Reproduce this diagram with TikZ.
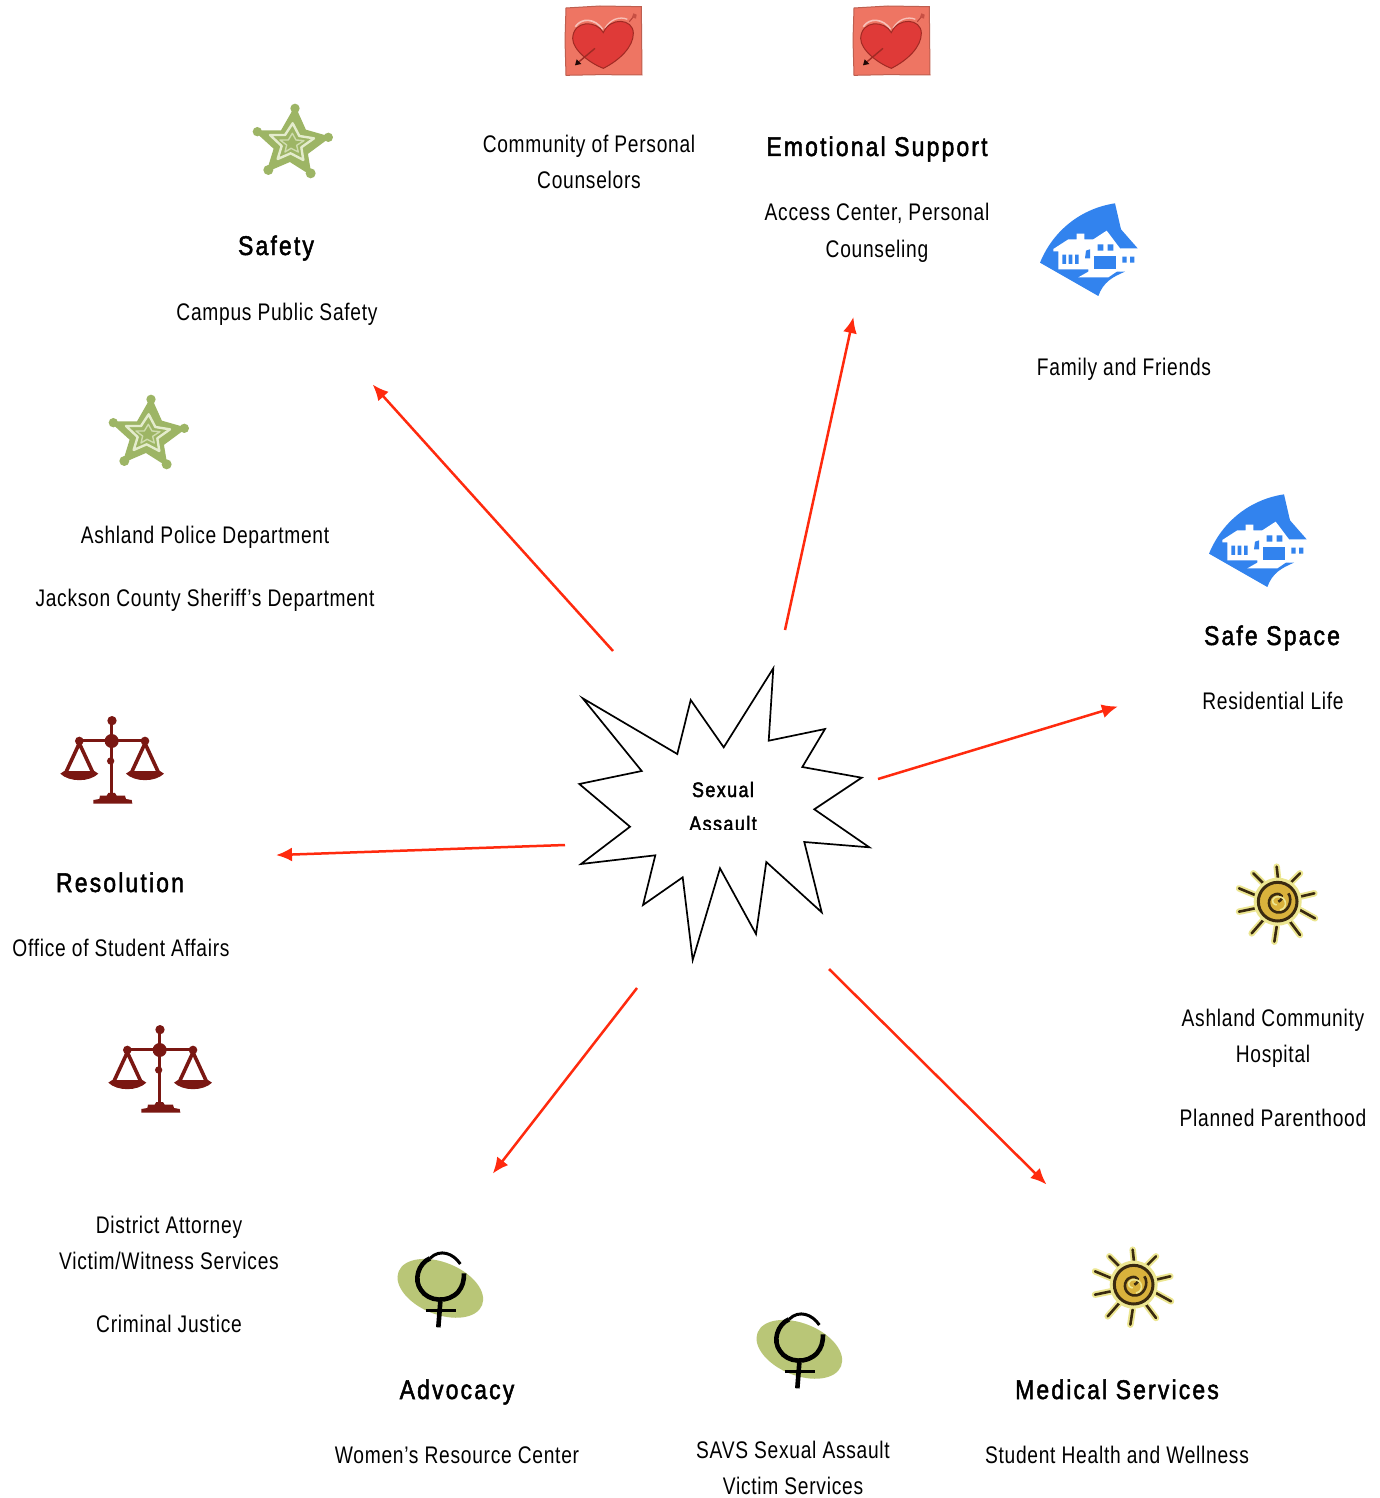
\documentclass[tikz,border=0pt]{standalone}
\usepackage{fontspec}
\setmainfont{Liberation Sans}
\newfontfamily\bodyfont[FakeStretch=0.8,LetterSpace=3]{Liberation Sans}
\newfontfamily\headfont[FakeStretch=0.85,LetterSpace=8,FakeBold=1.8]{Liberation Sans}
\newfontfamily\burstfont[FakeStretch=0.85,LetterSpace=7,FakeBold=2]{Liberation Sans}
\usetikzlibrary{arrows.meta}
\definecolor{arrowred}{HTML}{FF2A0E}
\definecolor{heartbg}{HTML}{EE7563}
\definecolor{heartred}{HTML}{DF3A38}
\definecolor{heartdark}{HTML}{A02A24}
\definecolor{stargreen}{HTML}{9DB565}
\definecolor{starlight}{HTML}{E4ECCD}
\definecolor{houseblue}{HTML}{3283EE}
\definecolor{scalered}{HTML}{7A1712}
\definecolor{sunyellow}{HTML}{ECE691}
\definecolor{sungold}{HTML}{D9B23C}
\definecolor{sundark}{HTML}{3A2A10}
\definecolor{venusgreen}{HTML}{B9C677}
\tikzset{
  txt/.style={font=\bodyfont\fontsize{24}{24}\selectfont,anchor=base,inner sep=0pt,text=black},
  head/.style={font=\headfont\fontsize{27}{27}\selectfont,anchor=base,inner sep=0pt,text=black},
  burstlbl/.style={font=\burstfont\fontsize{21}{21}\selectfont,anchor=base,inner sep=0pt,text=black},
  link/.style={draw=arrowred,line width=2.5pt,shorten >=-2pt,-{Latex[length=16pt,width=14pt]}},
  icon/.style={x=0.3333pt,y=-0.3333pt}
}
\newcommand{\hearticon}[2]{\begin{scope}[shift={(#1,#2)},icon]
  \fill[heartbg,draw=heartbg!80!black,line width=1pt] (48,24) -- (150,18) -- (274,20) -- (276,225) -- (150,224) -- (48,226) -- (45,120) -- cycle;
  \draw[white!55!heartbg,line width=1.6pt] (76,80) .. controls (95,52) and (135,55) .. (158,88);
  \draw[white!55!heartbg,line width=1.3pt] (165,85) .. controls (180,58) and (210,48) .. (232,58);
  \fill[heartred,draw=heartdark,line width=1pt] (160,98) .. controls (140,60) and (70,60) .. (68,115) .. controls (68,150) and (120,190) .. (160,205) .. controls (210,180) and (250,140) .. (250,100) .. controls (250,55) and (180,50) .. (160,98) -- cycle;
  \draw[heartdark,line width=1.4pt] (135,145) -- (85,187);
  \fill[black!80!heartdark] (75,196) -- (80,178) -- (94,192) -- cycle;
  \draw[heartdark!70!heartbg,line width=1pt] (238,65) -- (252,48);
  \fill[heartdark!50!heartbg] (246,52) -- (250,40) -- (260,44) -- (258,56) -- cycle;
\end{scope}}
\newcommand{\staricon}[2]{\begin{scope}[shift={(#1,#2)},icon]
  \draw[stargreen,fill=stargreen,line width=2.4pt,line join=round] (195,55) -- (225,122) -- (295,142) -- (230,190) -- (240,250) -- (180,212) -- (115,240) -- (135,175) -- (80,125) -- (155,125) -- cycle;
  \fill[stargreen] (195,55) circle (14) (295,142) circle (14) (242,250) circle (15) (115,240) circle (15) (82,125) circle (14);
  \draw[starlight,line width=2.4pt,line join=round] (188,100) -- (208,138) -- (252,145) -- (214,172) -- (220,210) -- (182,190) -- (143,207) -- (155,168) -- (120,135) -- (165,135) -- cycle;
  \draw[starlight!70!stargreen,line width=1.4pt,line join=round] (187,130) -- (198,150) -- (222,152) -- (200,166) -- (205,186) -- (183,175) -- (165,186) -- (170,165) -- (150,150) -- (175,150) -- cycle;
\end{scope}}
\newcommand{\houseicon}[2]{\begin{scope}[shift={(#1,#2)},icon]
  \fill[houseblue] (45,218) .. controls (85,120) and (170,55) .. (270,40) -- (288,118) -- (287,245) -- (300,245) .. controls (265,260) and (235,275) .. (220,318) -- cycle;
  \fill[white] (85,177) -- (130,148) -- (155,148) -- (155,131) -- (178,131) -- (178,148) -- (205,148) -- (245,122) -- (285,175) -- (288,175) -- (288,245) -- (275,245) -- (250,262) -- (160,262) -- (190,245) -- (190,238) -- (100,238) -- (100,184) -- (85,184) -- cycle;
  \fill[houseblue] (248,118) -- (288,118) -- (338,175) -- (288,175) -- cycle;
  \fill[houseblue] (183,182) -- (195,178) -- (195,205) -- (180,205) -- cycle;
  \fill[houseblue] (112,194) rectangle (123,222) (131,194) rectangle (142,222) (150,194) rectangle (161,222);
  \fill[houseblue] (207,198) rectangle (272,238);
  \fill[houseblue] (218,163) rectangle (235,182) (248,163) rectangle (265,182);
  \fill[houseblue] (292,200) rectangle (305,218) (315,200) rectangle (328,218);
\end{scope}}
\newcommand{\scaleicon}[2]{\begin{scope}[shift={(#1,#2)},icon]
  \draw[scalered,line width=3.4pt] (184,47) -- (184,280);
  \draw[scalered,line width=3.2pt] (88,106) -- (285,106);
  \fill[scalered] (186,47) circle (14) (185,108) circle (21) (182,168) circle (11) (88,108) circle (13) (285,108) circle (13);
  \foreach \c in {88,285}{
    \draw[scalered,line width=3.6pt] (\c,115) -- (\c-44,210) (\c,115) -- (\c+44,210);
    \fill[scalered] (\c-57,206) .. controls (\c-30,232) and (\c+30,232) .. (\c+57,206) -- (\c+45,198) -- (\c-45,198) -- cycle;
  }
  \fill[scalered] (130,296) -- (130,285) -- (148,282) -- (150,272) -- (170,272) -- (175,264) -- (195,264) -- (200,272) -- (225,272) -- (228,282) -- (245,285) -- (247,296) -- cycle;
\end{scope}}
\newcommand{\sunicon}[2]{\begin{scope}[shift={(#1,#2)},icon]
  \foreach \a/\b/\c/\d in {160/80/155/35,190/90/225/55,225/125/268/115,225/165/270/190,195/200/225/240,155/215/148/260,115/195/80/235,90/160/42/170,90/120/42/100,115/85/85/55}{
    \draw[sunyellow,line width=6.5pt,line cap=round] (\a,\b) -- (\c,\d);
    \draw[sundark,line width=2.6pt,line cap=round] (\a,\b) -- (\c,\d);
  }
  \fill[sunyellow] (158,140) circle (72);
  \fill[sungold] (158,140) circle (60);
  \draw[sundark,line width=3pt] (158,140) circle (58);
  \draw[sundark,line width=2.6pt] (160,140) .. controls (180,130) and (170,112) .. (150,118) .. controls (125,125) and (125,165) .. (155,172) .. controls (190,178) and (205,135) .. (190,115);
  \draw[sunyellow,line width=1.6pt] (155,150) .. controls (135,145) and (140,125) .. (160,125) .. controls (185,125) and (190,160) .. (165,165);
\end{scope}}
\newcommand{\venusicon}[2]{\begin{scope}[shift={(#1,#2)},icon]
  \fill[venusgreen,rotate around={-22:(166,145)}] (166,145) ellipse [x radius=135,y radius=78];
  \draw[black,line width=4.6pt] (166,185) -- (160,262);
  \draw[black,line width=3.4pt] (122,212) -- (212,212);
  \draw[black,line width=4.6pt] (135,55) .. controls (100,70) and (85,120) .. (108,150) .. controls (130,185) and (190,190) .. (220,155) .. controls (232,140) and (237,125) .. (237,100);
  \draw[black,line width=3pt] (135,55) .. controls (165,25) and (205,40) .. (226,72);
\end{scope}}
\begin{document}
\begin{tikzpicture}[x=1pt,y=-1pt]
\useasboundingbox (0,0) rectangle (1379,1498);
\fill[white] (0,0) rectangle (1379,1498);
% burst
\draw[black,line width=1.7pt,miter limit=20] (582.7,698.3) -- (677.3,754) -- (690.7,700) -- (723.7,747.3) -- (773.3,668.3) -- (768.7,740.7) -- (825,729) -- (802.3,767) -- (861.7,777.7) -- (814.3,809.3) -- (869.3,847.3) -- (804.3,842) -- (821.7,912.3) -- (766.3,862) -- (756,934) -- (720,868.3) -- (692.7,960) -- (682.7,877.3) -- (643,905) -- (655.3,855.3) -- (581,864) -- (630,826.7) -- (579.3,784) -- (641.7,771) -- cycle;
\node[burstlbl] (sexual) at (723,797) {Sexual};
\begin{scope}
  \clip (600,805) rectangle (850,829);
  \node[burstlbl] (assault) at (723,831) {Assault};
\end{scope}
% connectors
\coordinate (a1s) at (613,651); \coordinate (a1e) at (374,386);
\coordinate (a2s) at (785,630); \coordinate (a2e) at (853,319);
\coordinate (a3s) at (878,779); \coordinate (a3e) at (1116,707);
\coordinate (a4s) at (829,969); \coordinate (a4e) at (1045,1183);
\coordinate (a5s) at (637,988); \coordinate (a5e) at (494,1172);
\coordinate (a6s) at (565,845); \coordinate (a6e) at (278,855);
\draw[link] (a1s) -- (a1e);
\draw[link] (a2s) -- (a2e);
\draw[link] (a3s) -- (a3e);
\draw[link] (a4s) -- (a4e);
\draw[link] (a5s) -- (a5e);
\draw[link] (a6s) -- (a6e);
% icons
\hearticon{550}{0}
\hearticon{838}{0}
\staricon{230}{90}
\staricon{86}{381}
\houseicon{1025}{190}
\houseicon{1194}{481}
\scaleicon{50}{705}
\scaleicon{98}{1014}
\sunicon{1225}{855}
\sunicon{1081}{1238}
\venusicon{385}{1240}
\venusicon{744}{1301}
% texts
\node[txt] (t1) at (589,153) {Community of Personal};
\node[txt] (t2) at (589,189) {Counselors};
\node[head] (h1) at (877,156) {Emotional Support};
\node[txt] (t3) at (877,220) {Access Center, Personal};
\node[txt] (t4) at (877,257) {Counseling};
\node[head] (h2) at (276,255) {Safety};
\node[txt] (t5) at (277,320) {Campus Public Safety};
\node[txt] (t6) at (1124,375) {Family and Friends};
\node[txt] (t7) at (205,543) {Ashland Police Department};
\node[txt] (t8) at (205,606) {Jackson County Sheriff’s Department};
\node[head] (h3) at (1272,645) {Safe Space};
\node[txt] (t9) at (1273,709) {Residential Life};
\node[head] (h4) at (120,892) {Resolution};
\node[txt] (t10) at (121,956) {Office of Student Affairs};
\node[txt] (t11) at (1273,1026) {Ashland Community};
\node[txt] (t12) at (1273,1062) {Hospital};
\node[txt] (t13) at (1273,1126) {Planned Parenthood};
\node[txt] (t14) at (169,1233) {District Attorney};
\node[txt] (t15) at (169,1269) {Victim/Witness Services};
\node[txt] (t16) at (169,1332) {Criminal Justice};
\node[head] (h5) at (457,1399) {Advocacy};
\node[txt] (t17) at (457,1463) {Women’s Resource Center};
\node[head] (h6) at (1117,1399) {Medical Services};
\node[txt] (t18) at (1117,1463) {Student Health and Wellness};
\node[txt] (t19) at (793,1458) {SAVS Sexual Assault};
\node[txt] (t20) at (793,1494) {Victim Services};
\end{tikzpicture}
\end{document}
